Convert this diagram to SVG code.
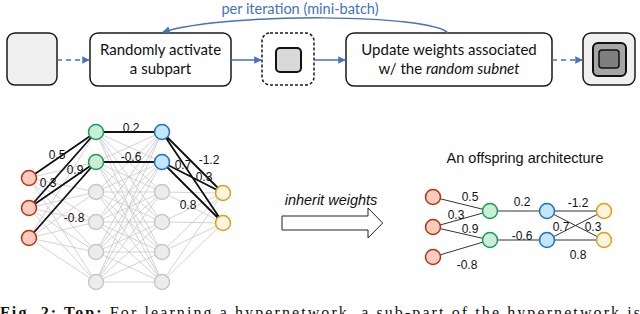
<svg xmlns="http://www.w3.org/2000/svg" width="640" height="314" viewBox="0 0 640 314">
<style>
.box{stroke:#1a1a1a;stroke-width:1.5;fill:#fff}
.lbl{font-family:Lato,"Liberation Sans",sans-serif;font-size:15px;fill:#111;text-anchor:middle}
.num{font-family:"Liberation Sans",Arial,sans-serif;font-size:12px;fill:#111;text-anchor:middle}
.flow{stroke:#4472c4;stroke-width:1.5;fill:none}
.mesh{stroke:#c8c8c8;stroke-width:0.8;fill:none}
.act{stroke:#111;stroke-width:1.8;fill:none}
.off{stroke:#333;stroke-width:1;fill:none}
.in{fill:#f9cbbf;stroke:#b8320e;stroke-width:1.5}
.gr{fill:#c8eed8;stroke:#1f9a52;stroke-width:1.5}
.bl{fill:#c3e6f9;stroke:#1c70c8;stroke-width:1.5}
.ye{fill:#fdf3de;stroke:#d9a017;stroke-width:1.5}
.gy{fill:#ececec;stroke:#c8c8c8;stroke-width:1.5}
</style>
<defs>
<marker id="ah" viewBox="0 0 10 10" refX="9" refY="5" markerWidth="5" markerHeight="5" orient="auto">
<path d="M0,0 L10,5 L0,10 z" fill="#4472c4"/>
</marker>
</defs>

<!-- top row nodes -->
<g id="start"><rect x="7" y="33" width="50" height="52" rx="8" class="box" fill="#f0f0f0" style="fill:#f0f0f0"/></g>
<g id="activate"><rect x="90" y="33" width="141" height="53" rx="8" class="box"/>
<text class="lbl" x="160.5" y="55">Randomly activate</text>
<text class="lbl" x="160.5" y="74">a subpart</text></g>
<g id="subnet"><rect x="262" y="33" width="52" height="52" rx="8" class="box" stroke-dasharray="3,2"/>
<rect x="276" y="48" width="25" height="24" rx="4" fill="#d9d9d9" stroke="#111" stroke-width="2"/></g>
<g id="update"><rect x="346" y="33" width="206" height="53" rx="8" class="box"/>
<text class="lbl" x="449" y="55">Update weights associated</text>
<text class="lbl" x="449" y="74">w/ the <tspan font-style="italic">random subnet</tspan></text></g>
<g id="result"><rect x="583" y="33" width="52" height="52" rx="8" class="box" style="fill:#f0f0f0"/>
<rect x="593" y="43" width="33" height="33" rx="5" fill="#a6a6a6" stroke="#111" stroke-width="2"/>
<rect x="599" y="50" width="20" height="18" rx="3" fill="#7f7f7f" stroke="#111" stroke-width="1.5"/></g>

<g id="connectors">
<path class="flow" d="M57,60 L89,60" stroke-dasharray="5,4" marker-end="url(#ah)"/>
<path class="flow" d="M231,60 L261,60" marker-end="url(#ah)"/>
<path class="flow" d="M314,60 L345,60" marker-end="url(#ah)"/>
<path class="flow" d="M552,60 L582,60" stroke-dasharray="5,4" marker-end="url(#ah)"/>
<path class="flow" d="M448,33 C430,14 230,12 163,32" marker-end="url(#ah)"/>
</g>
<text x="300" y="14" font-family="Lato,'Liberation Sans',sans-serif" font-size="14.5" fill="#4472c4" text-anchor="middle">per iteration (mini-batch)</text>

<!-- supernetwork -->
<g id="mesh" class="mesh">
<path d="M29,178L96,132M29,178L96,162M29,178L96,192M29,178L96,222M29,178L96,252M29,178L96,282
M29,208L96,132M29,208L96,162M29,208L96,192M29,208L96,222M29,208L96,252M29,208L96,282
M29,238L96,132M29,238L96,162M29,238L96,192M29,238L96,222M29,238L96,252M29,238L96,282
M96,132L162,132M96,132L162,162M96,132L162,192M96,132L162,222M96,132L162,252M96,132L162,282
M96,162L162,132M96,162L162,162M96,162L162,192M96,162L162,222M96,162L162,252M96,162L162,282
M96,192L162,132M96,192L162,162M96,192L162,192M96,192L162,222M96,192L162,252M96,192L162,282
M96,222L162,132M96,222L162,162M96,222L162,192M96,222L162,222M96,222L162,252M96,222L162,282
M96,252L162,132M96,252L162,162M96,252L162,192M96,252L162,222M96,252L162,252M96,252L162,282
M96,282L162,132M96,282L162,162M96,282L162,192M96,282L162,222M96,282L162,252M96,282L162,282
M162,132L223,193M162,162L223,193M162,192L223,193M162,222L223,193M162,252L223,193M162,282L223,193
M162,132L223,223M162,162L223,223M162,192L223,223M162,222L223,223M162,252L223,223M162,282L223,223"/>
</g>
<g id="active-edges" class="act">
<path d="M29,178L96,132M29,208L96,132M29,208L96,162M29,238L96,162M96,132L162,132M96,162L162,162M162,132L223,193M162,132L223,223M162,162L223,193M162,162L223,223"/>
</g>
<g id="super-nodes">
<circle class="in" cx="29" cy="178" r="7.5"/><circle class="in" cx="29" cy="208" r="7.5"/><circle class="in" cx="29" cy="238" r="7.5"/>
<circle class="gr" cx="96" cy="132" r="7.5"/><circle class="gr" cx="96" cy="162" r="7.5"/>
<circle class="gy" cx="96" cy="192" r="7.5"/><circle class="gy" cx="96" cy="222" r="7.5"/><circle class="gy" cx="96" cy="252" r="7.5"/><circle class="gy" cx="96" cy="282" r="7.5"/>
<circle class="bl" cx="162" cy="132" r="7.5"/><circle class="bl" cx="162" cy="162" r="7.5"/>
<circle class="gy" cx="162" cy="192" r="7.5"/><circle class="gy" cx="162" cy="222" r="7.5"/><circle class="gy" cx="162" cy="252" r="7.5"/><circle class="gy" cx="162" cy="282" r="7.5"/>
<circle class="ye" cx="223" cy="193" r="7.5"/><circle class="ye" cx="223" cy="223" r="7.5"/>
</g>
<g id="super-labels">
<text class="num" x="57" y="159">0.5</text>
<text class="num" x="48" y="187">0.3</text>
<text class="num" x="75" y="174">0.9</text>
<text class="num" x="74" y="222">-0.8</text>
<text class="num" x="131" y="132">0.2</text>
<text class="num" x="131" y="161">-0.6</text>
<text class="num" x="209" y="164">-1.2</text>
<text class="num" x="183" y="169">0.7</text>
<text class="num" x="204" y="181">0.3</text>
<text class="num" x="188" y="209">0.8</text>
</g>

<!-- inherit arrow -->
<g id="inherit">
<path d="M282,216 L368,216 L368,208 L382.7,223 L368,238 L368,230 L282,230 Z" fill="#fff" stroke="#222" stroke-width="1"/>
<text x="331" y="205" font-family="'Liberation Sans',Arial,sans-serif" font-size="14.5" font-style="italic" fill="#111" text-anchor="middle">inherit weights</text>
</g>

<!-- offspring -->
<text x="525" y="163" font-family="'Liberation Sans',Arial,sans-serif" font-size="14.5" fill="#111" text-anchor="middle">An offspring architecture</text>
<g id="off-edges" class="off">
<path d="M433,197L490,211M433,227L490,211M433,227L490,240M433,257L490,240M490,211L547,211M490,240L547,240M547,211L604,211M547,211L604,240M547,240L604,211M547,240L604,240"/>
</g>
<g id="off-nodes">
<circle class="in" cx="433" cy="197" r="7.5"/><circle class="in" cx="433" cy="227" r="7.5"/><circle class="in" cx="433" cy="257" r="7.5"/>
<circle class="gr" cx="490" cy="211" r="7.5"/><circle class="gr" cx="490" cy="240" r="7.5"/>
<circle class="bl" cx="547" cy="211" r="7.5"/><circle class="bl" cx="547" cy="240" r="7.5"/>
<circle class="ye" cx="604" cy="211" r="7.5"/><circle class="ye" cx="604" cy="240" r="7.5"/>
</g>
<g id="off-labels">
<text class="num" x="470" y="201">0.5</text>
<text class="num" x="456" y="219">0.3</text>
<text class="num" x="470" y="233">0.9</text>
<text class="num" x="467" y="269">-0.8</text>
<text class="num" x="522" y="206">0.2</text>
<text class="num" x="522" y="240">-0.6</text>
<text class="num" x="578" y="207">-1.2</text>
<text class="num" x="561" y="231">0.7</text>
<text class="num" x="593" y="231">0.3</text>
<text class="num" x="578" y="259">0.8</text>
</g>

<text x="0" y="318" font-family="'Liberation Serif','Times New Roman',serif" font-size="16" fill="#111" textLength="640" lengthAdjust="spacing"><tspan font-weight="bold">Fig. 2: Top:</tspan> For learning a hypernetwork, a sub-part of the hypernetwork is</text>
</svg>
